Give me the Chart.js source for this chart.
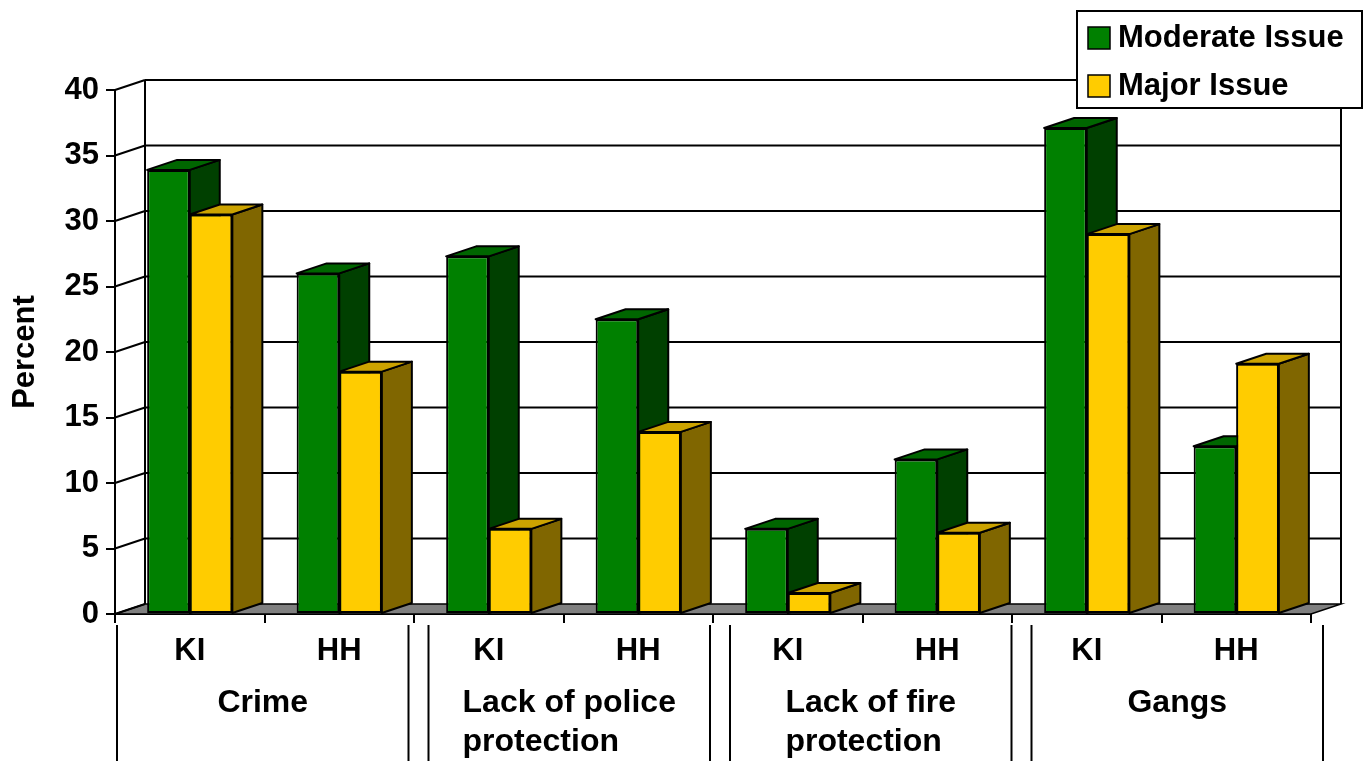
<!DOCTYPE html>
<html>
<head>
<meta charset="utf-8">
<script src="https://cdn.jsdelivr.net/npm/chart.js@4.4.1/dist/chart.umd.min.js"></script>
<style>
  html, body { margin: 0; padding: 0; background: #fff; }
  #wrap { width: 1363px; height: 761px; }
</style>
</head>
<body>
<div id="wrap"><canvas id="c" width="1363" height="761"></canvas></div>
<script>
// ---- data ----
const categories = ['KI', 'HH', 'KI', 'HH', 'KI', 'HH', 'KI', 'HH'];
const groupLabels = [['Crime'], ['Lack of police', 'protection'], ['Lack of fire', 'protection'], ['Gangs']];
const seriesNames = ['Moderate Issue', 'Major Issue'];
const moderateIssue = [33.9, 26.0, 27.3, 22.5, 6.5, 11.8, 37.1, 12.8];
const majorIssue = [30.5, 18.5, 6.5, 13.9, 1.6, 6.2, 29.0, 19.1];
const yMin = 0, yMax = 40, yStep = 5;

// ---- styling ----
const FONT = '"Liberation Sans", Arial, sans-serif';
const DX = 30, DY = -10;
const faces = [
  { front: '#008000', top: '#006600', side: '#004000' },
  { front: '#FFCC00', top: '#CCA300', side: '#806600' }
];

function line(ctx, x1, y1, x2, y2) {
  ctx.beginPath(); ctx.moveTo(x1, y1); ctx.lineTo(x2, y2); ctx.stroke();
}
function poly(ctx, pts, fill) {
  ctx.beginPath();
  ctx.moveTo(pts[0][0], pts[0][1]);
  for (let i = 1; i < pts.length; i++) ctx.lineTo(pts[i][0], pts[i][1]);
  ctx.closePath();
  ctx.fillStyle = fill; ctx.fill();
  ctx.stroke();
}
function drawFaces(ctx, el, f) {
  const p = el.getProps(['x', 'y', 'base', 'width'], true);
  const l = p.x - p.width / 2, r = p.x + p.width / 2, t = p.y, b = p.base;
  ctx.strokeStyle = '#000'; ctx.lineWidth = 2; ctx.lineJoin = 'round';
  poly(ctx, [[r, t], [r + DX, t + DY], [r + DX, b + DY], [r, b]], f.side);
  poly(ctx, [[l, t], [l + DX, t + DY], [r + DX, t + DY], [r, t]], f.top);
}

const threeD = {
  id: 'threeD',
  beforeDatasetsDraw(chart) {
    const ctx = chart.ctx, a = chart.chartArea, ys = chart.scales.y;
    ctx.save();
    ctx.strokeStyle = '#000'; ctx.lineWidth = 1.5;
    poly(ctx, [[a.left, a.bottom], [a.right, a.bottom], [a.right + DX, a.bottom + DY], [a.left + DX, a.bottom + DY]], '#808080');
    ctx.lineWidth = 2;
    ys.ticks.forEach(t => {
      const py = ys.getPixelForValue(t.value);
      line(ctx, a.left, py, a.left + DX, py + DY);
      if (t.value > yMin) line(ctx, a.left + DX, py + DY, a.right + DX, py + DY);
    });
    line(ctx, a.left + DX, a.top + DY, a.left + DX, a.bottom + DY);
    line(ctx, a.right + DX, a.top + DY, a.right + DX, a.bottom + DY);
    ctx.restore();
  },
  afterDatasetsDraw(chart) {
    const ctx = chart.ctx;
    const m0 = chart.getDatasetMeta(0), m1 = chart.getDatasetMeta(1);
    ctx.save();
    for (let i = 0; i < m0.data.length; i++) {
      drawFaces(ctx, m0.data[i], faces[0]);
      m1.data[i].draw(ctx, chart.chartArea);
      drawFaces(ctx, m1.data[i], faces[1]);
    }
    ctx.restore();
  },
  afterDraw(chart) {
    const ctx = chart.ctx, xs = chart.scales.x;
    ctx.save();
    const L = xs.left + 2, R = xs.right + 12, gw = (R - L) / groupLabels.length;
    const yTop = xs.top + 11, yBot = chart.height;
    ctx.strokeStyle = '#000'; ctx.lineWidth = 2;
    ctx.font = 'bold 32px ' + FONT;
    ctx.fillStyle = '#000';
    ctx.textBaseline = 'middle';
    ctx.textAlign = 'left';
    groupLabels.forEach((lines, g) => {
      const gl = L + g * gw + (g > 0 ? 10 : 0);
      const gr = L + (g + 1) * gw - (g < groupLabels.length - 1 ? 10 : 0);
      line(ctx, gl, yTop, gl, yBot);
      line(ctx, gr, yTop, gr, yBot);
      const w = Math.max(...lines.map(s => ctx.measureText(s).width));
      const cx = (gl + gr) / 2;
      lines.forEach((s, k) => ctx.fillText(s, cx - w / 2, xs.top + 89 + k * 39));
    });
    // legend
    const bw = 285, bh = 97;
    const bx = chart.width - bw - 1, by = 11;
    ctx.font = 'bold 31px ' + FONT;
    ctx.fillStyle = '#fff';
    ctx.fillRect(bx, by, bw, bh);
    ctx.strokeRect(bx, by, bw, bh);
    chart.data.datasets.forEach((ds, i) => {
      const cy = by + 27 + i * 48;
      ctx.fillStyle = ds.backgroundColor;
      ctx.lineWidth = 1.5;
      ctx.fillRect(bx + 11, cy - 11, 22, 22);
      ctx.strokeRect(bx + 11, cy - 11, 22, 22);
      ctx.fillStyle = '#000';
      ctx.fillText(ds.label, bx + 41, cy);
    });
    ctx.restore();
  }
};

new Chart(document.getElementById('c'), {
  type: 'bar',
  data: {
    labels: categories,
    datasets: [
      { label: seriesNames[0], data: moderateIssue, backgroundColor: faces[0].front },
      { label: seriesNames[1], data: majorIssue, backgroundColor: faces[1].front }
    ]
  },
  options: {
    responsive: false,
    animation: false,
    devicePixelRatio: 1,
    layout: { padding: { top: 90, right: 52, left: 0, bottom: 0 } },
    datasets: {
      bar: {
        categoryPercentage: 0.57,
        barPercentage: 1.0,
        borderColor: '#000',
        borderWidth: 2,
        borderSkipped: false
      }
    },
    plugins: {
      legend: { display: false },
      tooltip: { enabled: false }
    },
    scales: {
      x: {
        offset: true,
        grid: { offset: true, drawOnChartArea: false, drawTicks: true, tickLength: 9, color: '#000', lineWidth: 2 },
        border: { display: true, color: '#000', width: 2 },
        ticks: { color: '#000', padding: 10, font: { family: FONT, size: 31, weight: 'bold' }, maxRotation: 0 },
        afterFit(scale) { scale.height = 147; }
      },
      y: {
        min: yMin, max: yMax,
        grid: { drawOnChartArea: false, drawTicks: true, tickLength: 9, color: '#000', lineWidth: 2 },
        border: { display: true, color: '#000', width: 2 },
        ticks: { stepSize: yStep, color: '#000', padding: 7, font: { family: FONT, size: 31, weight: 'bold' } },
        title: { display: true, text: 'Percent', color: '#000', padding: { top: 7, bottom: 0 }, font: { family: FONT, size: 31, weight: 'bold' } },
        afterFit(scale) { scale.width = 115; }
      }
    }
  },
  plugins: [threeD]
});
</script>
</body>
</html>
